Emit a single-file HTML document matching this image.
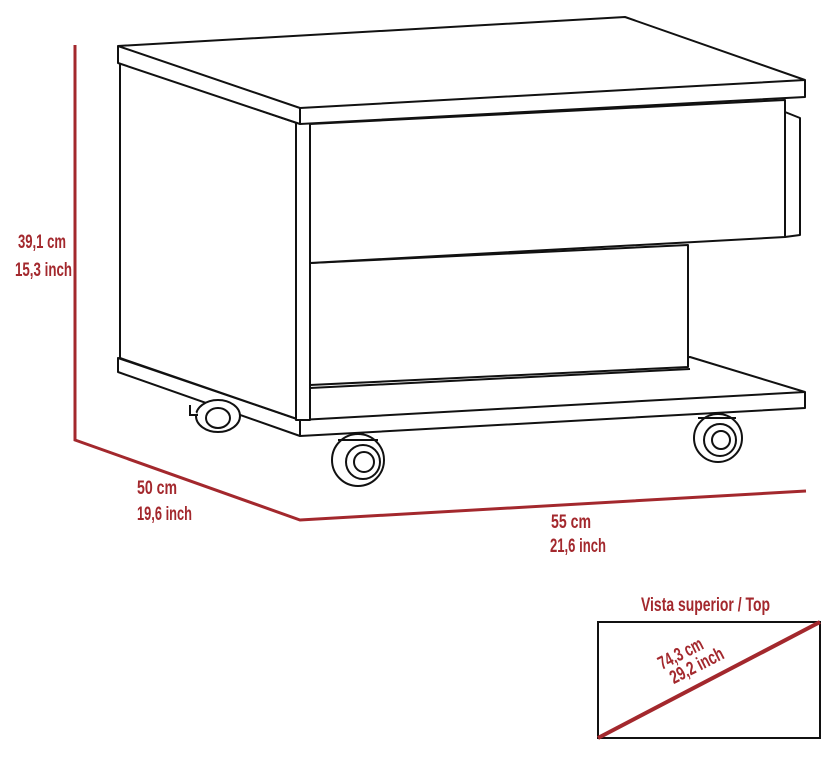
<!DOCTYPE html>
<html><head><meta charset="utf-8"><style>
body{margin:0;background:#fff;width:838px;height:760px;overflow:hidden}
svg{display:block}
text{font-family:"Liberation Sans Narrow","Liberation Sans",sans-serif;fill:#a3282d;font-size:19px;font-weight:bold}
</style></head><body>
<svg width="838" height="760" viewBox="0 0 838 760">
<g fill="#fff" stroke="#111" stroke-width="2" stroke-linejoin="round">
<polygon points="118,358 118,372 300,436 805,408 805,392 690,357 310,367 310,385 300,385 300,420"/>
<line x1="300" y1="420" x2="805" y2="392"/>
<line x1="300" y1="420" x2="300" y2="436"/>
<polygon points="120,63 300,124 300,420 120,358"/>
<rect x="296" y="122" width="14" height="298"/>
<polygon points="310,263 688,245 688,367 310,385"/>
<line x1="310" y1="388" x2="690" y2="369"/>
<polygon points="785,112 800,118 800,235 785,237"/>
<polygon points="310,124 785,100 785,237 310,263"/>
<polygon points="118,46 625,17 805,80 805,97 300,124 118,63"/>
<polyline points="118,46 300,108 805,80" fill="none"/>
<line x1="300" y1="108" x2="300" y2="124"/>
</g>
<g fill="#fff" stroke="#111" stroke-width="2">
<ellipse cx="218" cy="416" rx="22" ry="16"/><ellipse cx="218" cy="418" rx="12" ry="10"/>
<path d="M190,405 v10 h8"/>
<circle cx="358" cy="460" r="26"/><circle cx="363" cy="462" r="17"/><circle cx="364" cy="462" r="10"/>
<path d="M338,440 h40"/>
<circle cx="718" cy="438" r="24"/><circle cx="720" cy="440" r="16"/><circle cx="721" cy="440" r="9"/>
<path d="M698,418 h38"/>
</g>
<g stroke="#a3282d" stroke-width="3" fill="none">
<polyline points="75,45 75,440 300,520 806,491"/>
<rect x="598" y="622" width="222" height="116" stroke="#111" stroke-width="2"/>
<line x1="598" y1="738" x2="820" y2="622" stroke-width="4"/>
</g>
<text x="18" y="248" textLength="48" lengthAdjust="spacingAndGlyphs">39,1 cm</text>
<text x="15" y="276" textLength="57" lengthAdjust="spacingAndGlyphs">15,3 inch</text>
<text x="137" y="494" textLength="40" lengthAdjust="spacingAndGlyphs">50 cm</text>
<text x="137" y="520" textLength="55" lengthAdjust="spacingAndGlyphs">19,6 inch</text>
<text x="551" y="528" textLength="40" lengthAdjust="spacingAndGlyphs">55 cm</text>
<text x="550" y="552" textLength="56" lengthAdjust="spacingAndGlyphs">21,6 inch</text>
<text x="641" y="611" textLength="129" lengthAdjust="spacingAndGlyphs">Vista superior / Top</text>
<g transform="translate(662,670) rotate(-27)">
<text x="0" y="0" textLength="48" lengthAdjust="spacingAndGlyphs">74,3 cm</text>
<text x="4" y="18" textLength="58" lengthAdjust="spacingAndGlyphs">29,2 inch</text>
</g>
</svg>
</body></html>
